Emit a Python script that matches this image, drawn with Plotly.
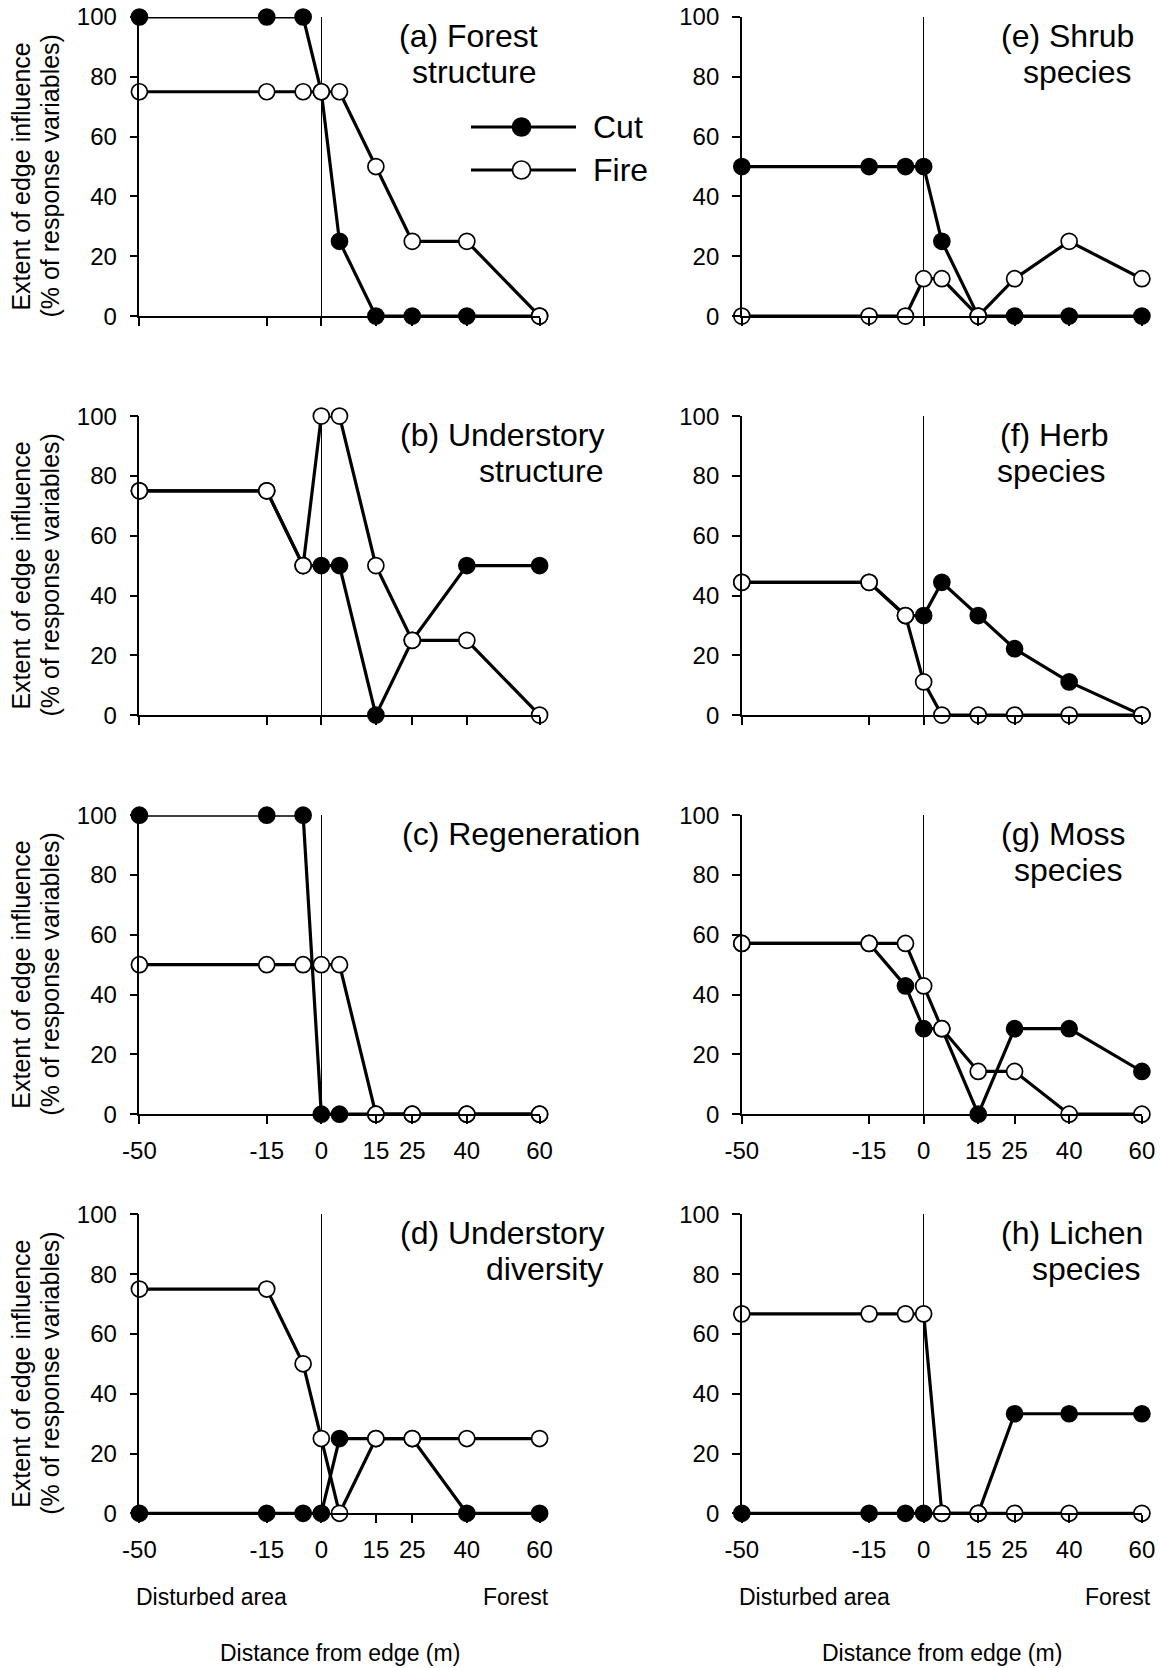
import plotly.graph_objects as go

# ---------------- data ----------------
distance = [-50, -15, -5, 0, 5, 15, 25, 40, 60]
tick_vals = [-50, -15, 0, 15, 25, 40, 60]
tick_text = ["-50", "-15", "0", "15", "25", "40", "60"]

cut_a = [100, 100, 100, 75, 25, 0, 0, 0, 0]
fire_a = [75, 75, 75, 75, 75, 50, 25, 25, 0]
cut_b = [75, 75, 50, 50, 50, 0, 25, 50, 50]
fire_b = [75, 75, 50, 100, 100, 50, 25, 25, 0]
cut_c = [100, 100, 100, 0, 0, 0, 0, 0, 0]
fire_c = [50, 50, 50, 50, 50, 0, 0, 0, 0]
cut_d = [0, 0, 0, 0, 25, 25, 25, 0, 0]
fire_d = [75, 75, 50, 25, 0, 25, 25, 25, 25]
cut_e = [50, 50, 50, 50, 25, 0, 0, 0, 0]
fire_e = [0, 0, 0, 12.5, 12.5, 0, 12.5, 25, 12.5]
cut_f = [44.4, 44.4, 33.3, 33.3, 44.4, 33.3, 22.2, 11.1, 0]
fire_f = [44.4, 44.4, 33.3, 11.1, 0, 0, 0, 0, 0]
cut_g = [57.1, 57.1, 42.9, 28.6, 28.6, 0, 28.6, 28.6, 14.3]
fire_g = [57.1, 57.1, 57.1, 42.9, 28.6, 14.3, 14.3, 0, 0]
cut_h = [0, 0, 0, 0, 0, 0, 33.3, 33.3, 33.3]
fire_h = [66.7, 66.7, 66.7, 66.7, 0, 0, 0, 0, 0]

panel_titles = [["(a) Forest", "structure"], ["(b) Understory", "structure"],
                ["(c) Regeneration"], ["(d) Understory", "diversity"],
                ["(e) Shrub", "species"], ["(f) Herb", "species"],
                ["(g) Moss", "species"], ["(h) Lichen", "species"]]
series_names = ["Cut", "Fire"]
y_title_lines = ["Extent of edge influence", "(% of response variables)"]
x_title = "Distance from edge (m)"
left_label = "Disturbed area"
right_label = "Forest"

cut_all = [cut_a, cut_b, cut_c, cut_d, cut_e, cut_f, cut_g, cut_h]
fire_all = [fire_a, fire_b, fire_c, fire_d, fire_e, fire_f, fire_g, fire_h]

# ---------------- layout geometry (page pixels) ----------------
W, H = 1160, 1668
FONT = "Liberation Sans, Arial, sans-serif"
col_x = [(139.4, 539.6), (741.8, 1141.9)]
row_y = [(17.0, 316.1), (416.1, 715.1), (815.2, 1114.2), (1214.3, 1513.3)]
title_right = [540, 607, 642, 607, 1136, 1110, 1127, 1145]


def px(x):
    return x / W


def py(y):
    return 1 - y / H


def txt(text, x, y, size, xanchor="center", angle=0):
    return dict(text=text, xref="paper", yref="paper", x=px(x), y=py(y),
                xanchor=xanchor, yanchor="middle", showarrow=False,
                textangle=angle, font=dict(size=size, family=FONT, color="black"))


fig = go.Figure()
layout = dict(width=W, height=H, margin=dict(l=0, r=0, t=0, b=0, pad=0),
              plot_bgcolor="white", paper_bgcolor="white", showlegend=False,
              hovermode=False,
              font=dict(family=FONT, color="black"))
annotations = []
shapes = []

for i in range(8):
    col = i // 4
    row = i % 4
    n = i + 1
    xa = "x" if n == 1 else f"x{n}"
    ya = "y" if n == 1 else f"y{n}"
    xk = "xaxis" if n == 1 else f"xaxis{n}"
    yk = "yaxis" if n == 1 else f"yaxis{n}"
    x0, x1 = col_x[col]
    ytop, ybot = row_y[row]
    show_xlabels = row >= 2
    layout[xk] = dict(domain=[px(x0), px(x1)], range=[-50, 60], anchor=ya,
                      automargin=False, ticklabeloverflow="allow",
                      showline=True, linecolor="black", linewidth=1.5,
                      ticks="outside", ticklen=8, tickwidth=1.5, tickcolor="black",
                      tickvals=tick_vals, ticktext=tick_text,
                      showticklabels=show_xlabels, ticklabelstandoff=6,
                      tickfont=dict(size=24, family=FONT, color="black"),
                      showgrid=False, zeroline=True, zerolinecolor="black",
                      zerolinewidth=1)
    layout[yk] = dict(domain=[py(ybot), py(ytop)], range=[0, 100], anchor=xa,
                      automargin=False, ticklabeloverflow="allow",
                      showline=True, linecolor="black", linewidth=1.5,
                      ticks="outside", ticklen=8, tickwidth=1.5, tickcolor="black",
                      tickvals=[0, 20, 40, 60, 80, 100],
                      tickfont=dict(size=24, family=FONT, color="black"),
                      ticklabelstandoff=8,
                      showgrid=False, zeroline=False)
    for vals, fill, name in ((cut_all[i], "black", series_names[0]),
                             (fire_all[i], "white", series_names[1])):
        fig.add_trace(go.Scatter(
            x=distance, y=vals, mode="lines+markers", xaxis=xa, yaxis=ya,
            cliponaxis=False, name=name,
            line=dict(color="black", width=3.2),
            marker=dict(size=16, color=fill, line=dict(color="black", width=1.7))))
    for k, line in enumerate(panel_titles[i]):
        annotations.append(txt(line, title_right[i] - 2 * k, ytop + 19 + 36 * k, 32,
                               xanchor="right"))
    if col == 0:
        ymid = (ytop + ybot) / 2 + 10
        annotations.append(txt(y_title_lines[0], 21, ymid, 25, angle=-90))
        annotations.append(txt(y_title_lines[1], 50, ymid, 25, angle=-90))

# bottom labels
for col in range(2):
    x0, x1 = col_x[col]
    annotations.append(txt(left_label, x0 - 5, 1597, 23, xanchor="left"))
    annotations.append(txt(right_label, x1 + 11, 1597, 23, xanchor="right"))
    annotations.append(txt(x_title, (x0 + x1) / 2, 1653, 23))

# legend (panel a)
leg_y = [127, 170]
for k, fill in enumerate(["black", "white"]):
    shapes.append(dict(type="line", xref="paper", yref="paper",
                       x0=px(471), x1=px(576), y0=py(leg_y[k]), y1=py(leg_y[k]),
                       line=dict(color="black", width=3.2)))
    shapes.append(dict(type="circle", xref="paper", yref="paper",
                       xsizemode="pixel", ysizemode="pixel",
                       xanchor=px(521.5), yanchor=py(leg_y[k]),
                       x0=-9, x1=9, y0=-9, y1=9,
                       fillcolor=fill, line=dict(color="black", width=1.7)))
    annotations.append(txt(series_names[k], 591, leg_y[k], 32, xanchor="left"))

layout["annotations"] = annotations
layout["shapes"] = shapes
fig.update_layout(**layout)
# remove the browser's default 8px page margin so the figure fills the window
fig.write_html("out.html", config={"displayModeBar": False},
               post_script="document.body.style.margin='0';document.body.style.padding='0';")
